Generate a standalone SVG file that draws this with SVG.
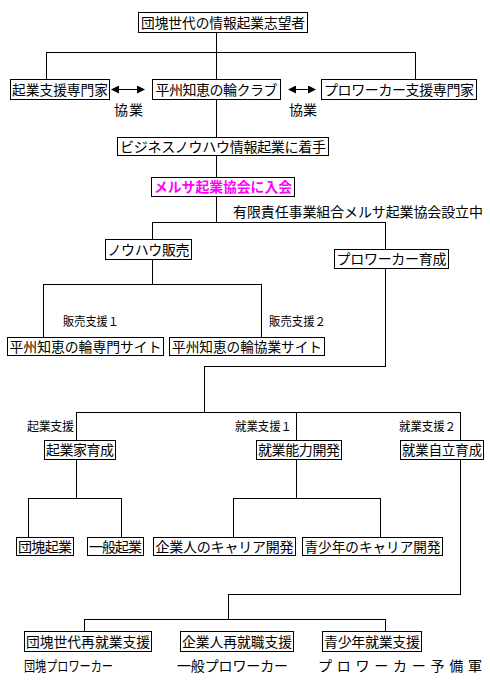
<svg xmlns="http://www.w3.org/2000/svg" width="490" height="681" viewBox="0 0 490 681">
<defs>
<style>
.box rect{fill:#fff;stroke:#000;stroke-width:1;shape-rendering:crispEdges}
text{font-family:"Noto Sans CJK JP","Noto Sans",sans-serif;font-size:14px;fill:#000}
.box text{text-anchor:middle}
.sm{font-size:12px}
.conn line,.conn path{stroke:#000;stroke-width:1;fill:none;shape-rendering:crispEdges}
.mag{fill:#ff00ff;font-weight:bold}
</style>
<marker id="ah" viewBox="0 0 8 8" refX="7" refY="4" markerWidth="8" markerHeight="8" markerUnits="userSpaceOnUse" orient="auto-start-reverse">
<path d="M0,0 L8,4 L0,8 Z" fill="#000"/>
</marker>
</defs>
<rect width="490" height="681" fill="#fff"/>
<g class="conn">
<path d="M216.5,32 V52.5 M46.5,79 V52.5 H415.5 V79 M216.5,52 V79"/>
<path d="M216.5,99 V137 M216.5,155 V177 M216.5,196 V222.5"/>
<path d="M152.5,239 V222.5 H385.5 V249"/>
<path d="M152.5,259 V284.5 M43.5,337 V284.5 H261.5 V337"/>
<path d="M385.5,268 V366.5 H204.5 V412.5 M76.5,440 V412.5 H460.5 V440 M296.5,412 V440"/>
<path d="M76.5,459 V498.5 M28.5,537 V498.5 H121.5 V537"/>
<path d="M296.5,459 V498.5 M233.5,537 V498.5 H380.5 V537"/>
<path d="M460.5,459 V594.5 H228.5 V619.5 M84.5,631 V619.5 H385.5 V631"/>
<line x1="112" y1="89.5" x2="144" y2="89.5" marker-start="url(#ah)" marker-end="url(#ah)"/>
<line x1="289" y1="89.5" x2="315" y2="89.5" marker-start="url(#ah)" marker-end="url(#ah)"/>
</g>
<g id="n1" class="box"><rect x="138.5" y="12.5" width="169" height="20"/><text x="223" y="28" textLength="164" lengthAdjust="spacingAndGlyphs">団塊世代の情報起業志望者</text></g>
<g id="n2" class="box"><rect x="10.5" y="79.5" width="99" height="20"/><text x="60" y="95" textLength="96" lengthAdjust="spacingAndGlyphs">起業支援専門家</text></g>
<g id="n3" class="box"><rect x="152.5" y="79.5" width="128" height="20"/><text x="216.5" y="95" textLength="122">平州知恵の輪クラブ</text></g>
<g id="n4" class="box"><rect x="321.5" y="79.5" width="155" height="20"/><text x="399" y="95" textLength="150">プロワーカー支援専門家</text></g>
<g id="n5" class="box"><rect x="117.5" y="137.5" width="211" height="18"/><text x="223" y="152" textLength="206">ビジネスノウハウ情報起業に着手</text></g>
<g id="n6" class="box"><rect x="151.5" y="177.5" width="143" height="19"/><text class="mag" x="223" y="192" textLength="138" lengthAdjust="spacingAndGlyphs">メルサ起業協会に入会</text></g>
<g id="n7" class="box"><rect x="105.5" y="239.5" width="86" height="20"/><text x="148.5" y="255" textLength="82">ノウハウ販売</text></g>
<g id="n8" class="box"><rect x="334.5" y="249.5" width="114" height="19"/><text x="391.5" y="264" textLength="110">プロワーカー育成</text></g>
<g id="n9" class="box"><rect x="7.5" y="337.5" width="156" height="18"/><text x="85.5" y="352" textLength="152" lengthAdjust="spacingAndGlyphs">平州知恵の輪専門サイト</text></g>
<g id="n10" class="box"><rect x="169.5" y="337.5" width="155" height="18"/><text x="247" y="352" textLength="150" lengthAdjust="spacingAndGlyphs">平州知恵の輪協業サイト</text></g>
<g id="n11" class="box"><rect x="44.5" y="440.5" width="71" height="19"/><text x="80" y="455" textLength="68">起業家育成</text></g>
<g id="n12" class="box"><rect x="256.5" y="440.5" width="85" height="19"/><text x="299" y="455" textLength="82">就業能力開発</text></g>
<g id="n13" class="box"><rect x="400.5" y="440.5" width="83" height="19"/><text x="442" y="455" textLength="80" lengthAdjust="spacingAndGlyphs">就業自立育成</text></g>
<g id="n14" class="box"><rect x="16.5" y="537.5" width="57" height="18"/><text x="45" y="552" textLength="54">団塊起業</text></g>
<g id="n15" class="box"><rect x="87.5" y="537.5" width="56" height="18"/><text x="115.5" y="552" textLength="53">一般起業</text></g>
<g id="n16" class="box"><rect x="153.5" y="537.5" width="142" height="18"/><text x="224.5" y="552" textLength="138">企業人のキャリア開発</text></g>
<g id="n17" class="box"><rect x="302.5" y="537.5" width="140" height="18"/><text x="372.5" y="552" textLength="136" lengthAdjust="spacingAndGlyphs">青少年のキャリア開発</text></g>
<g id="n18" class="box"><rect x="24.5" y="631.5" width="127" height="20"/><text x="88" y="647" textLength="124" lengthAdjust="spacingAndGlyphs">団塊世代再就業支援</text></g>
<g id="n19" class="box"><rect x="180.5" y="631.5" width="113" height="20"/><text x="237" y="647" textLength="110" lengthAdjust="spacingAndGlyphs">企業人再就職支援</text></g>
<g id="n20" class="box"><rect x="322.5" y="631.5" width="99" height="20"/><text x="372" y="647" textLength="96">青少年就業支援</text></g>
<g id="labels">
<text x="114" y="115" textLength="29">協業</text>
<text x="289" y="115" textLength="28">協業</text>
<text x="233" y="217" textLength="250">有限責任事業組合メルサ起業協会設立中</text>
<text class="sm" x="63" y="326" textLength="56" lengthAdjust="spacingAndGlyphs">販売支援１</text>
<text class="sm" x="269" y="326" textLength="57" lengthAdjust="spacingAndGlyphs">販売支援２</text>
<text class="sm" x="27" y="431" textLength="47">起業支援</text>
<text class="sm" x="235" y="431" textLength="57" lengthAdjust="spacingAndGlyphs">就業支援１</text>
<text class="sm" x="399" y="431" textLength="57" lengthAdjust="spacingAndGlyphs">就業支援２</text>
<text x="24" y="671" textLength="89" lengthAdjust="spacingAndGlyphs">団塊プロワーカー</text>
<text x="177" y="671" textLength="111">一般プロワーカー</text>
<text x="318" y="671" textLength="164">プロワーカー予備軍</text>
</g>
</svg>
